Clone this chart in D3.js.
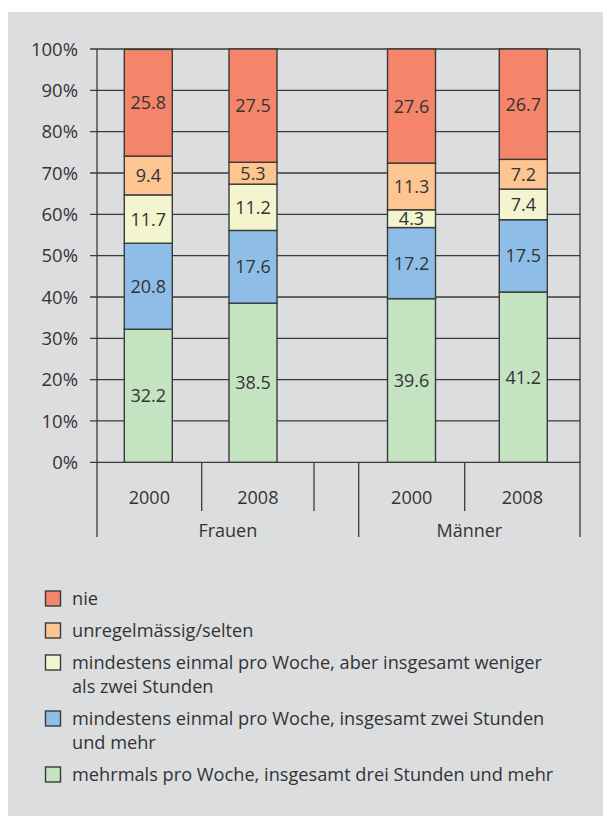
<!DOCTYPE html>
<html>
<head>
<meta charset="utf-8">
<script src="https://cdnjs.cloudflare.com/ajax/libs/d3/7.8.5/d3.min.js"></script>
<style>
  html, body { margin: 0; padding: 0; background: #ffffff; }
  svg { display: block; }
  text { font-family: "Open Sans", "Noto Sans", sans-serif; fill: #333333; }
</style>
</head>
<body>
<svg id="chart" width="603" height="816"></svg>
<script>
// ---- data ----
const categories = ["F2000", "F2008", "gap", "M2000", "M2008"];
const yearLabels = ["2000", "2008", "", "2000", "2008"];
const groups = ["Frauen", "Männer"];
const seriesNames = [
  "mehrmals pro Woche, insgesamt drei Stunden und mehr",
  "mindestens einmal pro Woche, insgesamt zwei Stunden und mehr",
  "mindestens einmal pro Woche, aber insgesamt weniger als zwei Stunden",
  "unregelmässig/selten",
  "nie"
];
const legendLines = [
  ["nie"],
  ["unregelmässig/selten"],
  ["mindestens einmal pro Woche, aber insgesamt weniger", "als zwei Stunden"],
  ["mindestens einmal pro Woche, insgesamt zwei Stunden", "und mehr"],
  ["mehrmals pro Woche, insgesamt drei Stunden und mehr"]
];
const barCats = ["F2000", "F2008", "M2000", "M2008"];
const mehrmals   = [32.2, 38.5, 39.6, 41.2];
const zweiStd    = [20.8, 17.6, 17.2, 17.5];
const wenigerZwei= [11.7, 11.2, 4.3, 7.4];
const selten     = [9.4, 5.3, 11.3, 7.2];
const nie        = [25.8, 27.5, 27.6, 26.7];
const yTicks = [0, 10, 20, 30, 40, 50, 60, 70, 80, 90, 100];

const colors = ["#c4e3c1", "#8ebee8", "#f2f5ce", "#fdc591", "#f5856a"];
const legendColors = ["#f5856a", "#fdc591", "#f2f5ce", "#8ebee8", "#c4e3c1"];

// ---- layout ----
const svg = d3.select("#chart");
const stroke = "#3a3a3a";
svg.append("rect").attr("x", 8).attr("y", 12).attr("width", 603 - 8).attr("height", 816 - 12).attr("fill", "#dcdddf");

const plotL = 97, plotR = 580, plotT = 49, plotB = 462.3;
const y = d3.scaleLinear().domain([0, 100]).range([plotB, plotT]);
// category boundaries (ticks) and bar centres
const bounds = [97, 201.7, 314, 358.7, 464.7, 580];
const xLabel = d3.scaleOrdinal().domain(categories).range(categories.map((c, i) => (bounds[i] + bounds[i + 1]) / 2));
const xBar = d3.scaleOrdinal().domain(barCats).range([148.3, 253, 411.5, 523.3]);
const barW = 48;

// gridlines
const g = svg.append("g");
g.selectAll("line.grid").data(yTicks).enter().append("line")
  .attr("x1", plotL - 7).attr("x2", plotR)
  .attr("y1", d => y(d)).attr("y2", d => y(d))
  .attr("stroke", stroke).attr("stroke-width", 1.3);
// y axis labels
g.selectAll("text.yl").data(yTicks).enter().append("text")
  .attr("x", 78).attr("y", d => y(d)).attr("dy", "0.36em")
  .attr("text-anchor", "end").attr("font-size", 18.5)
  .text(d => d + "%");

// stacked bars
const table = barCats.map((c, i) => ({
  cat: c, s0: mehrmals[i], s1: zweiStd[i], s2: wenigerZwei[i], s3: selten[i], s4: nie[i]
}));
const stack = d3.stack().keys(["s0", "s1", "s2", "s3", "s4"]);
const layers = stack(table);
layers.forEach((layer, li) => {
  const lg = svg.append("g");
  lg.selectAll("rect").data(layer).enter().append("rect")
    .attr("x", d => xBar(d.data.cat) - barW / 2)
    .attr("width", barW)
    .attr("y", d => y(Math.min(d[1], 100)))
    .attr("height", d => y(d[0]) - y(Math.min(d[1], 100)))
    .attr("fill", colors[li])
    .attr("stroke", stroke).attr("stroke-width", 1.4);
  lg.selectAll("text").data(layer).enter().append("text")
    .attr("x", d => xBar(d.data.cat))
    .attr("y", d => (y(d[0]) + y(Math.min(d[1], 100))) / 2)
    .attr("dy", "0.36em")
    .attr("text-anchor", "middle").attr("font-size", 18)
    .text(d => d3.format(".1f")(d[1] - d[0]));
});

// axes frame lines
svg.append("line").attr("x1", plotL).attr("x2", plotL).attr("y1", plotT).attr("y2", 537).attr("stroke", stroke).attr("stroke-width", 1.3);
svg.append("line").attr("x1", plotR).attr("x2", plotR).attr("y1", plotT).attr("y2", 537).attr("stroke", stroke).attr("stroke-width", 1.3);
svg.append("line").attr("x1", bounds[3]).attr("x2", bounds[3]).attr("y1", plotB).attr("y2", 537).attr("stroke", stroke).attr("stroke-width", 1.3);
[bounds[1], bounds[2], bounds[4]].forEach(bx => {
  svg.append("line").attr("x1", bx).attr("x2", bx).attr("y1", plotB).attr("y2", 511).attr("stroke", stroke).attr("stroke-width", 1.3);
});
// category labels
svg.selectAll("text.cat").data(categories).enter().append("text")
  .attr("x", d => xLabel(d)).attr("y", 498).attr("dy", "0.36em")
  .attr("text-anchor", "middle").attr("font-size", 18)
  .text((d, i) => yearLabels[i]);
svg.selectAll("text.grp").data(groups).enter().append("text")
  .attr("x", (d, i) => i === 0 ? (bounds[0] + bounds[3]) / 2 : (bounds[3] + bounds[5]) / 2)
  .attr("y", 531).attr("dy", "0.36em")
  .attr("text-anchor", "middle").attr("font-size", 18)
  .text(d => d);

// legend
let ly = 598;
const lineH = 24;
legendLines.forEach((lines, i) => {
  svg.append("rect").attr("x", 45.5).attr("y", ly - 7).attr("width", 15).attr("height", 15)
    .attr("fill", legendColors[i]).attr("stroke", stroke).attr("stroke-width", 1.4);
  lines.forEach((t, j) => {
    svg.append("text").attr("x", 72).attr("y", ly + j * lineH).attr("dy", "0.36em")
      .attr("font-size", 18.2).text(t);
  });
  ly += (lines.length - 1) * lineH + 32;
});
</script>
</body>
</html>
